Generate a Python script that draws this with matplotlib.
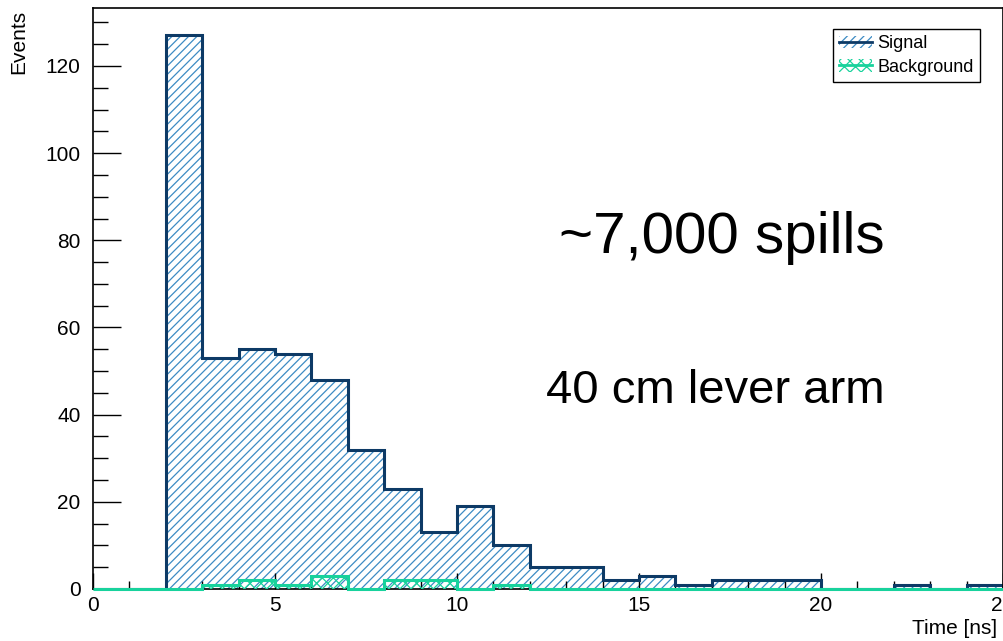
import numpy as np
import matplotlib
matplotlib.use("Agg")
import matplotlib.pyplot as plt
from matplotlib.patches import Patch
from matplotlib.lines import Line2D
from matplotlib.legend_handler import HandlerTuple
from matplotlib.ticker import MultipleLocator

plt.rcParams['font.family'] = ['Liberation Sans', 'DejaVu Sans']
plt.rcParams['hatch.linewidth'] = 0.9

# 1 ns bins from 0 to 25 ns
bin_edges = np.arange(0, 26)
signal = [0, 0, 127, 53, 55, 54, 48, 32, 23, 13, 19, 10, 5, 5, 2, 3, 1, 2, 2, 2, 0, 0, 1, 0, 1]
background = [0, 0, 0, 1, 2, 1, 3, 0, 2, 2, 0, 1, 0, 0, 0, 0, 0, 0, 0, 0, 0, 0, 0, 0, 0]

sig_line = '#0d3a66'
sig_hatch = '#3d8bc4'
bkg_col = '#18d29c'
sig_pattern = '////'
bkg_pattern = 'xxx'

fig = plt.figure(figsize=(10.04, 6.41), dpi=100)
ax = fig.add_axes([93/1004, 1 - 589/641, 910/1004, 581/641])

# signal: hatched fill then outline
ax.stairs(signal, bin_edges, fill=True, facecolor='none', edgecolor=sig_hatch,
          hatch=sig_pattern, linewidth=0, zorder=1)
ax.stairs(signal, bin_edges, color=sig_line, linewidth=2.2, zorder=2)

# background on top
ax.stairs(background, bin_edges, fill=True, facecolor='none', edgecolor=bkg_col,
          hatch=bkg_pattern, linewidth=0, zorder=3)
ax.stairs(background, bin_edges, color=bkg_col, linewidth=2.2, zorder=4, clip_on=False)

ax.set_xlim(0, 25)
ax.set_ylim(0, 133.3)

ax.xaxis.set_major_locator(MultipleLocator(5))
ax.xaxis.set_minor_locator(MultipleLocator(1))
ax.yaxis.set_major_locator(MultipleLocator(20))
ax.yaxis.set_minor_locator(MultipleLocator(5))
ax.tick_params(axis='both', which='both', direction='in', top=False, right=False,
               width=1, labelsize=15, colors='black')
ax.tick_params(axis='y', which='major', length=20, pad=9)
ax.tick_params(axis='y', which='minor', length=11)
ax.tick_params(axis='x', which='major', length=11.5, pad=5)
ax.tick_params(axis='x', which='minor', length=5.8)
for s in ax.spines.values():
    s.set_linewidth(1.2)

fig.text(19/1004, 1 - 10/641, 'Events', rotation=90, ha='center', va='top', fontsize=15)
fig.text(997/1004, 1 - 629/641, 'Time [ns]', ha='right', va='center', fontsize=15)

ax.text(0.870, 0.578, '~7,000 spills', transform=ax.transAxes, ha='right',
        va='baseline', fontsize=42)
ax.text(0.870, 0.320, '40 cm lever arm', transform=ax.transAxes, ha='right',
        va='baseline', fontsize=34)

h_sig = (Patch(facecolor='none', edgecolor=sig_hatch, hatch=sig_pattern, linewidth=0),
         Line2D([], [], color=sig_line, linewidth=2))
h_bkg = (Patch(facecolor='none', edgecolor=bkg_col, hatch=bkg_pattern, linewidth=0),
         Line2D([], [], color=bkg_col, linewidth=2))
leg = ax.legend([h_sig, h_bkg], ['Signal', 'Background'],
                handler_map={tuple: HandlerTuple(ndivide=1)},
                loc='upper right', bbox_to_anchor=(980/1004, 1 - 29/641),
                bbox_transform=fig.transFigure, fontsize=13, fancybox=False,
                framealpha=1, edgecolor='black', borderpad=0.35, labelspacing=0.35,
                handlelength=1.8, handletextpad=0.3, borderaxespad=0)
leg.get_frame().set_linewidth(1)

fig.savefig('out.png', dpi=100)
